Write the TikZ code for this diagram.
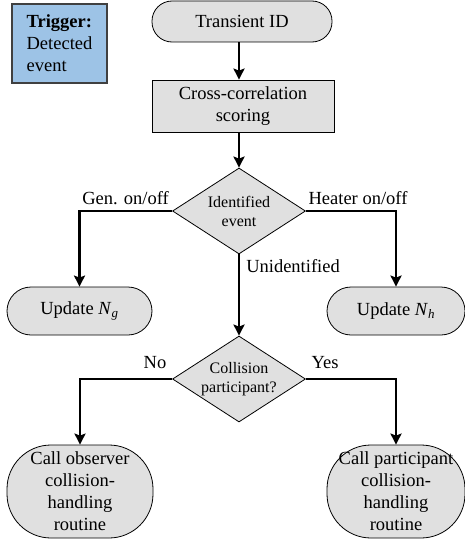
\documentclass[tikz,border=0pt]{standalone}
\usepackage{fontspec}
\setmainfont{Liberation Serif}
\usetikzlibrary{shapes.geometric,arrows.meta}
\definecolor{boxgray}{HTML}{E0E0E0}
\definecolor{trigblue}{HTML}{9DC3E6}
\definecolor{trigedge}{HTML}{404040}
\begin{document}
\begin{tikzpicture}[x=1pt,y=-1pt,
  every node/.style={font=\fontsize{18.5}{22}\selectfont},
  shp/.style={draw=black, line width=0.8pt, fill=boxgray, align=center, inner sep=0pt},
  procbox/.style={shp, rectangle},
  termbox/.style={shp, rectangle, rounded corners=#1},
  decbox/.style={shp, diamond, aspect=1.55, font=\fontsize{16}{19}\selectfont},
  trigbox/.style={draw=trigedge, line width=1.4pt, fill=trigblue, align=left, inner sep=0pt},
  arr/.style={line width=2.6pt, -{Stealth[length=11pt,width=11pt,inset=2pt]}},
  lbl/.style={anchor=base, inner sep=0pt}
]
\useasboundingbox (0,0) rectangle (465,543);

\node[trigbox, minimum width=95pt, minimum height=79pt] (trig) at (59.5,43.5)
  {\textbf{Trigger:}\\Detected\\event};

\node[termbox=20pt, minimum width=180pt, minimum height=41pt] (tid) at (242,21.5) {Transient ID};
\node[procbox, minimum width=182pt, minimum height=52pt] (cc) at (243,106) {Cross-correlation\\scoring};
\node[decbox, minimum width=133pt, minimum height=86pt] (d1) at (239,211) {Identified\\event};
\node[termbox=24pt, minimum width=145pt, minimum height=48pt] (ung) at (79.5,311) {Update \textit{N}\textsubscript{\textit{g}}};
\node[termbox=24pt, minimum width=138pt, minimum height=48pt] (unh) at (396,311) {Update \textit{N}\textsubscript{\textit{h}}};
\node[decbox, minimum width=133pt, minimum height=86pt] (d2) at (239,379) {Collision\\participant?};
\node[termbox=44pt, minimum width=146pt, minimum height=93pt] (cob) at (80,491.5) {Call observer\\collision-\\handling\\routine};
\node[termbox=44pt, minimum width=138pt, minimum height=93pt] (cpa) at (396,491.5) {Call participant\\collision-\\handling\\routine};

\draw[arr] (tid.south -| d1.north) -- (cc.north -| d1.north);
\draw[arr] (cc.south -| d1.north) -- (d1.north);
\draw[arr] (d1.west) -| (ung.north);
\draw[arr] (d1.east) -| (unh.north);
\draw[arr] (d1.south) -- (d2.north);
\draw[arr] (d2.west) -| (cob.north);
\draw[arr] (d2.east) -| (cpa.north);

\node[lbl] (lgen) at (125.5,204) {Gen. on/off};
\node[lbl] (lheat) at (358,204) {Heater on/off};
\node[lbl] (lun) at (293,272) {Unidentified};
\node[lbl] (lno) at (155,368) {No};
\node[lbl] (lyes) at (325,368) {Yes};
\end{tikzpicture}
\end{document}
